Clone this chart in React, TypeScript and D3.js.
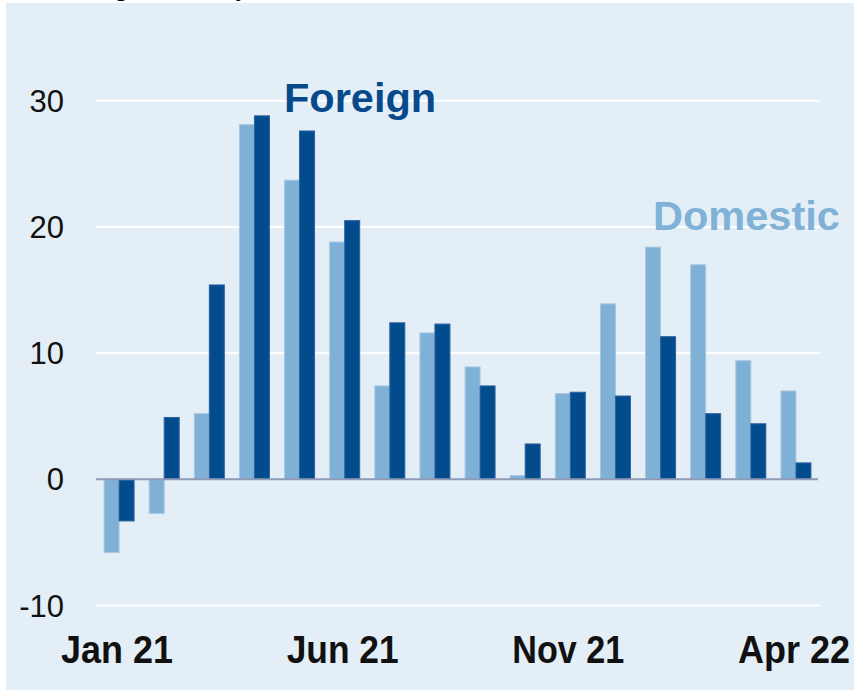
import React from "react";
import * as d3 from "d3";

const months = ["Jan 21","Feb 21","Mar 21","Apr 21","May 21","Jun 21","Jul 21","Aug 21","Sep 21","Oct 21","Nov 21","Dec 21","Jan 22","Feb 22","Mar 22","Apr 22"];
const domestic = [-5.8, -2.7, 5.2, 28.1, 23.7, 18.8, 7.4, 11.6, 8.9, 0.3, 6.8, 13.9, 18.4, 17.0, 9.4, 7.0];
const foreign = [-3.3, 4.9, 15.4, 28.8, 27.6, 20.5, 12.4, 12.3, 7.4, 2.8, 6.9, 6.6, 11.3, 5.2, 4.4, 1.3];
const yTicks = [-10, 0, 10, 20, 30];
const xTickLabels = ["Jan 21", "Jun 21", "Nov 21", "Apr 22"];

const W = 854;
const H = 690;
const FONT = "Arial, 'Liberation Sans', Helvetica, sans-serif";

export default function App() {
  const x = d3.scaleBand<string>().domain(months).range([96.5, 818.5]).padding(0);
  const y = d3.scaleLinear().domain([-10, 30]).range([605.5, 100.7]);
  const bw = 15;
  const center = (m: string) => (x(m) as number) + x.bandwidth() / 2;

  return (
    <svg width={W} height={H} style={{ position: "fixed", top: 0, left: 0, background: "#ffffff" }}>
      <text x={10} y={-4} fontFamily={FONT} fontSize={26} fill="#000">Percentage, monthly</text>
      <rect x={6} y={3} width={W - 6} height={H - 3} fill="#e4eef6" />
      {yTicks.filter(t => t !== 0).map(t => (
        <line key={"g" + t} x1={96} x2={820} y1={y(t)} y2={y(t)} stroke="#ffffff" strokeWidth={2} />
      ))}
      {yTicks.map(t => (
        <text key={"yl" + t} x={64} y={y(t) + 11} textAnchor="end" fontFamily={FONT} fontSize={31} fill="#111">{t}</text>
      ))}
      {months.map((m, i) => {
        const c = center(m);
        const d = domestic[i];
        const f = foreign[i];
        return (
          <g key={m}>
            <rect x={c - bw} y={Math.min(y(d), y(0))} width={bw} height={Math.abs(y(d) - y(0))} fill="#7fb1d6" stroke="#a6c8e4" strokeWidth={1} />
            <rect x={c} y={Math.min(y(f), y(0))} width={bw} height={Math.abs(y(f) - y(0))} fill="#024c8d" stroke="#2c62a0" strokeWidth={1} />
          </g>
        );
      })}
      <line x1={96} x2={818} y1={y(0)} y2={y(0)} stroke="#8e9ab6" strokeWidth={2} />
      {xTickLabels.map(l => (
        <text key={l} x={center(l) - 2} y={663} textAnchor="middle" fontFamily={FONT} fontSize={38} fontWeight="bold" fill="#111" textLength={112} lengthAdjust="spacingAndGlyphs">{l}</text>
      ))}
      <text x={284} y={111.5} fontFamily={FONT} fontSize={41.5} fontWeight="bold" fill="#064a8c">Foreign</text>
      <text x={653} y={230} fontFamily={FONT} fontSize={41.5} fontWeight="bold" fill="#80b1d6">Domestic</text>
    </svg>
  );
}
